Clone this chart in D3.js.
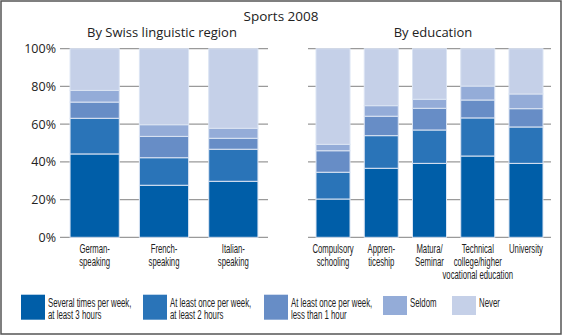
<!DOCTYPE html>
<html>
<head>
<meta charset="UTF-8" />
<title>Sports 2008</title>
<script src="https://d3js.org/d3.v7.min.js"></script>
<style>
  body { margin: 0; background: #fff; }
  text { fill: #222; }
</style>
</head>
<body>
<svg id="chart" width="562" height="336"></svg>
<script type="text/javascript">

// ---- data -------------------------------------------------------------
var series = ["Several times per week, at least 3 hours",
              "At least once per week, at least 2 hours",
              "At least once per week, less than 1 hour",
              "Seldom", "Never"]
var colors = ["#005ea8", "#2a74b8", "#678dc6", "#94acd8", "#c5d0e8"]

var regionCats = [["German-", "speaking"], ["French-", "speaking"], ["Italian-", "speaking"]]
var regionVals = [
  [44.2, 18.9, 8.6, 6.2, 22.1],
  [27.6, 14.6, 11.3, 6.2, 40.3],
  [29.7, 17.0, 5.8, 5.3, 42.2]
]

var eduCats = [["Compulsory", "schooling"], ["Appren-", "ticeship"], ["Matura/", "Seminar"],
               ["Technical", "college/higher", "vocational education"], ["University"]]
var eduVals = [
  [20.3, 14.2, 11.4, 3.4, 50.7],
  [36.6, 17.3, 10.3, 5.6, 30.2],
  [39.2, 17.7, 11.5, 4.8, 26.8],
  [43.1, 20.2, 9.5, 7.4, 19.8],
  [39.2, 19.3, 9.7, 7.8, 24.0]
]

var yTicks = [0, 20, 40, 60, 80, 100]
var legendLines = [["Several times per week,", "at least 3 hours"],
                   ["At least once per week,", "at least 2 hours"],
                   ["At least once per week,", "less than 1 hour"],
                   ["Seldom"], ["Never"]]

// ---- drawing ----------------------------------------------------------
var svg = d3.select("#chart")
var titleFont = "'Open Sans', 'Noto Sans', sans-serif"
var narrowFont = "'Liberation Sans', Arial, sans-serif"

svg.append("rect")
  .attr("x", 1).attr("y", 1).attr("width", 560).attr("height", 333)
  .attr("fill", "none").attr("stroke", "#555").attr("stroke-width", 1.5)

svg.append("text").attr("x", 281).attr("y", 21)
  .attr("text-anchor", "middle").style("font-family", titleFont).style("font-size", "13.5px")
  .text("Sports 2008")

// condensed multi-line label (the original uses a narrow face)
function narrowText(x, y0, lines, anchor, size, sx, lh) {
  var t = svg.append("text")
    .attr("transform", "translate(" + x + "," + y0 + ") scale(" + sx + ",1)")
    .attr("text-anchor", anchor)
    .style("font-family", narrowFont).style("font-size", size + "px")
  lines.forEach((l, j) => t.append("tspan").attr("x", 0).attr("y", j * lh).text(l))
  return t
}

var y = d3.scaleLinear().domain([0, 100]).range([237.3, 48.7])

function panel(cats, vals, x0, x1, pad, title, titleX, showAxis) {
  var g = svg.append("g")
  var x = d3.scaleBand().domain(d3.range(cats.length)).range([x0, x1])
    .paddingInner(pad[0]).paddingOuter(pad[1])

  // gridlines
  g.selectAll("line.grid").data(yTicks).enter().append("line")
    .attr("x1", x0).attr("x2", x1)
    .attr("y1", d => y(d)).attr("y2", d => y(d))
    .attr("stroke", "#9a9a9a").attr("stroke-width", 1.3)

  if (showAxis) {
    g.selectAll("text.tick").data(yTicks).enter().append("text")
      .attr("x", x0 - 4).attr("y", d => y(d) + 4.5)
      .attr("text-anchor", "end")
      .style("font-family", titleFont).style("font-size", "12.5px")
      .text(d => d + "%")
  }

  var stack = d3.stack().keys(d3.range(5)).value((d, k) => d[k])
  var layers = stack(vals)
  g.selectAll("g.layer").data(layers).enter().append("g")
    .attr("fill", (d, i) => colors[i])
    .selectAll("rect").data(d => d.map((p, i) => ({p: p, i: i}))).enter().append("rect")
    .attr("x", d => x(d.i))
    .attr("width", x.bandwidth())
    .attr("y", d => y(d.p[1]))
    .attr("height", d => y(d.p[0]) - y(d.p[1]))
    .attr("stroke", "#dbe4f3").attr("stroke-width", 1)

  cats.forEach((lines, i) => {
    narrowText(x(i) + x.bandwidth() / 2, 253.3, lines, "middle", 12.5, 0.62, 12.8)
  })

  g.append("text").attr("x", titleX).attr("y", 37)
    .attr("text-anchor", "middle").style("font-family", titleFont).style("font-size", "13px")
    .text(title)
}

panel(regionCats, regionVals, 60, 268, [0.29, 0.145], "By Swiss linguistic region", 162, true)
panel(eduCats, eduVals, 308, 551, [0.295, 0.166], "By education", 433, false)

// legend
var legendX = [21, 143, 264, 383, 452]
legendLines.forEach((lines, i) => {
  var small = i >= 3
  svg.append("rect")
    .attr("x", legendX[i]).attr("y", small ? 296 : 294.7)
    .attr("width", 24).attr("height", small ? 19 : 25)
    .attr("fill", colors[i])
  narrowText(legendX[i] + 27, 307, lines, "start", 13.5, 0.58, 12.3)
})

</script>
</body>
</html>
